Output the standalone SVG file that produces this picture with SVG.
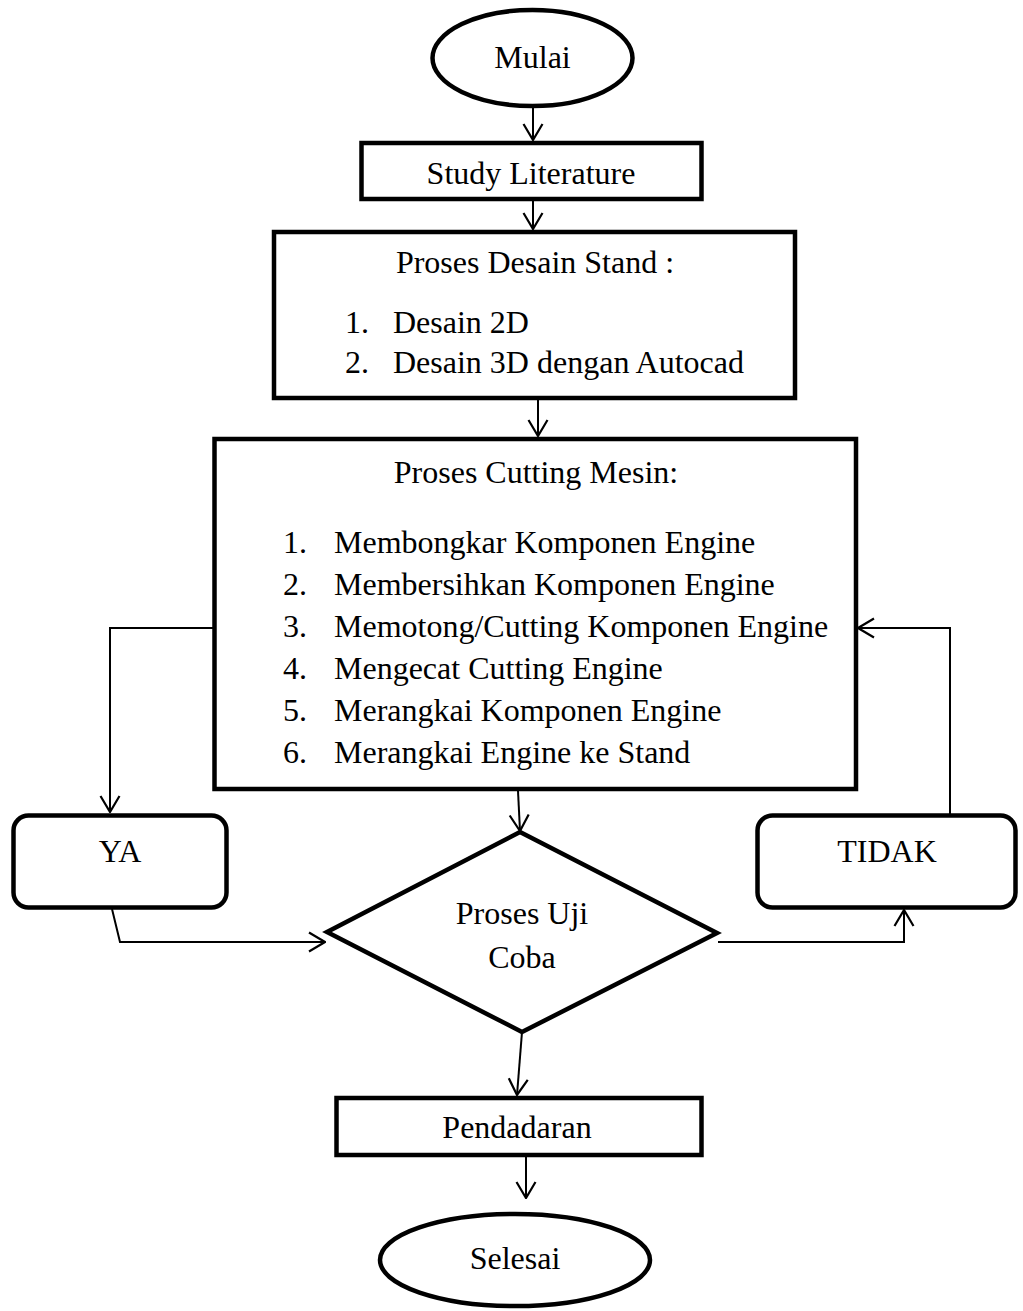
<svg xmlns="http://www.w3.org/2000/svg" width="1023" height="1311" viewBox="0 0 1023 1311">
<style>
.shape{fill:#fff;stroke:#000;stroke-width:4.5}
.t{font-family:"Liberation Serif","Times New Roman",serif;font-size:32px;fill:#000}
.c{text-anchor:middle}
.conn{fill:none;stroke:#000;stroke-width:2}
</style>
<defs>
<marker id="arr" markerUnits="userSpaceOnUse" viewBox="0 0 18 22" refX="17" refY="11" markerWidth="18" markerHeight="22" orient="auto">
<path d="M1,1.5 L17,11 L1,20.5" fill="none" stroke="#000" stroke-width="2.2"/>
</marker>
</defs>
<rect width="1023" height="1311" fill="#fff"/>
<g id="connectors" class="conn" marker-end="url(#arr)">
<path d="M533,108 L533,140"/>
<path d="M533,201 L533,229"/>
<path d="M538,400 L538,436"/>
<path d="M214,628 L110,628 L110,812"/>
<path d="M518,791 L520,831"/>
<path d="M112,909 L120,942 L325,942"/>
<path d="M718,942 L904,942 L904,910"/>
<path d="M950,814 L950,628 L858,628"/>
<path d="M522,1032 L517,1095"/>
<path d="M526,1157 L526,1198"/>
</g>
<g id="mulai">
<ellipse class="shape" cx="532.5" cy="58" rx="100" ry="48"/>
<text class="t c" x="532.5" y="68">Mulai</text>
</g>
<g id="study">
<rect class="shape" x="361.5" y="143" width="340" height="56"/>
<text class="t c" x="531" y="184">Study Literature</text>
</g>
<g id="desain">
<rect class="shape" x="274" y="232" width="521" height="166"/>
<text class="t c" x="535" y="273">Proses Desain Stand :</text>
<text class="t" x="345" y="333">1.</text>
<text class="t" x="393" y="333">Desain 2D</text>
<text class="t" x="345" y="373">2.</text>
<text class="t" x="393" y="373">Desain 3D dengan Autocad</text>
</g>
<g id="cutting">
<rect class="shape" x="214.5" y="439" width="641.5" height="350"/>
<text class="t c" x="536" y="483">Proses Cutting Mesin:</text>
<text class="t" x="283" y="553">1.</text><text class="t" x="334" y="553">Membongkar Komponen Engine</text>
<text class="t" x="283" y="595">2.</text><text class="t" x="334" y="595">Membersihkan Komponen Engine</text>
<text class="t" x="283" y="637">3.</text><text class="t" x="334" y="637">Memotong/Cutting Komponen Engine</text>
<text class="t" x="283" y="679">4.</text><text class="t" x="334" y="679">Mengecat Cutting Engine</text>
<text class="t" x="283" y="721">5.</text><text class="t" x="334" y="721">Merangkai Komponen Engine</text>
<text class="t" x="283" y="763">6.</text><text class="t" x="334" y="763">Merangkai Engine ke Stand</text>
</g>
<g id="ya">
<rect class="shape" x="13.5" y="815.5" width="213" height="92" rx="15" ry="15"/>
<text class="t c" x="120" y="862">YA</text>
</g>
<g id="tidak">
<rect class="shape" x="757.5" y="815.5" width="258" height="92" rx="15" ry="15"/>
<text class="t c" x="887" y="862">TIDAK</text>
</g>
<g id="ujicoba">
<polygon class="shape" points="520,832 717,933 522,1032 327,932"/>
<text class="t c" x="522" y="924">Proses Uji</text>
<text class="t c" x="522" y="968">Coba</text>
</g>
<g id="pendadaran">
<rect class="shape" x="336.5" y="1098" width="365" height="57"/>
<text class="t c" x="517" y="1138">Pendadaran</text>
</g>
<g id="selesai">
<ellipse class="shape" cx="515" cy="1260" rx="135" ry="46"/>
<text class="t c" x="515" y="1269">Selesai</text>
</g>
</svg>
